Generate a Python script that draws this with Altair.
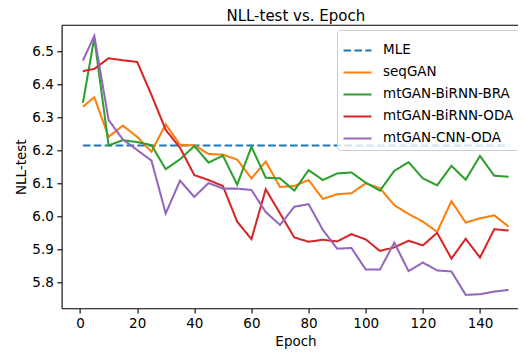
import altair as alt
import pandas as pd

# ---- data ----
epochs = [1, 5, 10, 15, 20, 25, 30, 35, 40, 45, 50, 55, 60, 65, 70, 75,
          80, 85, 90, 95, 100, 105, 110, 115, 120, 125, 130, 135, 140, 145, 150]

mle_value = 6.214

seqgan = [6.331, 6.360, 6.240, 6.274, 6.240, 6.195, 6.278, 6.216, 6.214, 6.188,
          6.186, 6.171, 6.114, 6.165, 6.088, 6.091, 6.109, 6.052, 6.066, 6.069,
          6.099, 6.084, 6.033, 6.006, 5.983, 5.952, 6.045, 5.980, 5.993, 6.002, 5.968]

birnn_bra = [6.343, 6.540, 6.214, 6.230, 6.224, 6.215, 6.142, 6.172, 6.212, 6.162,
             6.183, 6.095, 6.210, 6.116, 6.114, 6.077, 6.139, 6.109, 6.129, 6.132,
             6.101, 6.077, 6.137, 6.163, 6.114, 6.093, 6.152, 6.110, 6.182, 6.122, 6.119]

birnn_oda = [6.439, 6.446, 6.478, 6.472, 6.467, 6.367, 6.261, 6.207, 6.124, 6.109,
             6.091, 5.983, 5.930, 6.081, 6.008, 5.935, 5.922, 5.928, 5.923, 5.945,
             5.929, 5.894, 5.905, 5.925, 5.911, 5.949, 5.871, 5.931, 5.874, 5.960, 5.956]

cnn_oda = [6.471, 6.546, 6.291, 6.232, 6.200, 6.168, 6.008, 6.107, 6.058, 6.100,
           6.083, 6.083, 6.079, 6.012, 5.973, 6.028, 6.036, 5.958, 5.901, 5.903,
           5.838, 5.838, 5.919, 5.833, 5.859, 5.835, 5.832, 5.761, 5.763, 5.771, 5.776]

series_names = ["MLE", "seqGAN", "mtGAN-BiRNN-BRA", "mtGAN-BiRNN-ODA", "mtGAN-CNN-ODA"]
series_values = [[mle_value] * len(epochs), seqgan, birnn_bra, birnn_oda, cnn_oda]

x_ticks = [0, 20, 40, 60, 80, 100, 120, 140]
y_ticks = [5.8, 5.9, 6.0, 6.1, 6.2, 6.3, 6.4, 6.5]

# ---- styling ----
colors = ["#1f77b4", "#ff7f0e", "#2ca02c", "#d62728", "#9467bd"]
dashes = [[7.6, 3.3], [1, 0], [1, 0], [1, 0], [1, 0]]
FONT = "DejaVu Sans"
W, H = 456.4, 283
X_DOMAIN = [-6.45, 153.3]
Y_DOMAIN = [5.7203, 6.578]

rows = []
for i, (name, vals) in enumerate(zip(series_names, series_values)):
    for e, v in zip(epochs, vals):
        rows.append({"epoch": e, "value": v, "series": name, "order": i})
df = pd.DataFrame(rows)

legend_cfg = dict(
    orient="none", legendX=275.4, legendY=4.7, title=None,
    symbolType="stroke", symbolSize=784, symbolStrokeWidth=2.05,
    labelFont=FONT, labelFontSize=13.5, labelColor="black", labelOffset=10,
    padding=5, rowPadding=-8, fillColor="rgba(255,255,255,0.8)",
    strokeColor="#cccccc", cornerRadius=3,
)

lines = alt.Chart(df).mark_line(strokeWidth=2.05, clip=True).encode(
    x=alt.X("epoch:Q",
            scale=alt.Scale(domain=X_DOMAIN, nice=False, zero=False),
            axis=alt.Axis(values=x_ticks, title="Epoch", titleX=233.9, titleY=37.5,
                          titleAlign="center", titleBaseline="alphabetic")),
    y=alt.Y("value:Q",
            scale=alt.Scale(domain=Y_DOMAIN, nice=False, zero=False),
            axis=alt.Axis(values=y_ticks, format=".1f", title="NLL-test",
                          titleX=-36.6, titleY=H / 2, titleAlign="center",
                          titleBaseline="alphabetic", titleAngle=270)),
    color=alt.Color("series:N", sort=series_names,
                    scale=alt.Scale(domain=series_names, range=colors),
                    legend=alt.Legend(**legend_cfg)),
    strokeDash=alt.StrokeDash("series:N", sort=series_names,
                              scale=alt.Scale(domain=series_names, range=dashes),
                              legend=alt.Legend(**legend_cfg)),
    order=alt.Order("order:Q"),
)

top_spine = alt.Chart(pd.DataFrame({"a": [0]})).mark_rule(
    color="black", strokeWidth=1.1
).encode(x=alt.value(0), x2=alt.value(W), y=alt.value(0))

chart = alt.layer(lines, top_spine).properties(
    width=W, height=H,
    title=alt.TitleParams("NLL-test vs. Epoch", font=FONT, fontSize=15,
                          fontWeight="normal", color="black", anchor="middle",
                          dx=6, offset=1, frame="group"),
    autosize=alt.AutoSizeParams(type="none"),
    padding={"left": 53.6, "top": 17.3, "right": 0, "bottom": 45},
).configure_view(strokeWidth=0).configure_axis(
    grid=False, domainColor="black", domainWidth=1.1, tickColor="black",
    tickSize=4.8, tickWidth=1.1, labelFont=FONT, labelFontSize=13.5,
    labelColor="black", labelPadding=3.5, titleFont=FONT, titleFontSize=13.5,
    titleFontWeight="normal", titleColor="black",
)

chart.save("out.html", embed_options={"renderer": "svg", "actions": False})
